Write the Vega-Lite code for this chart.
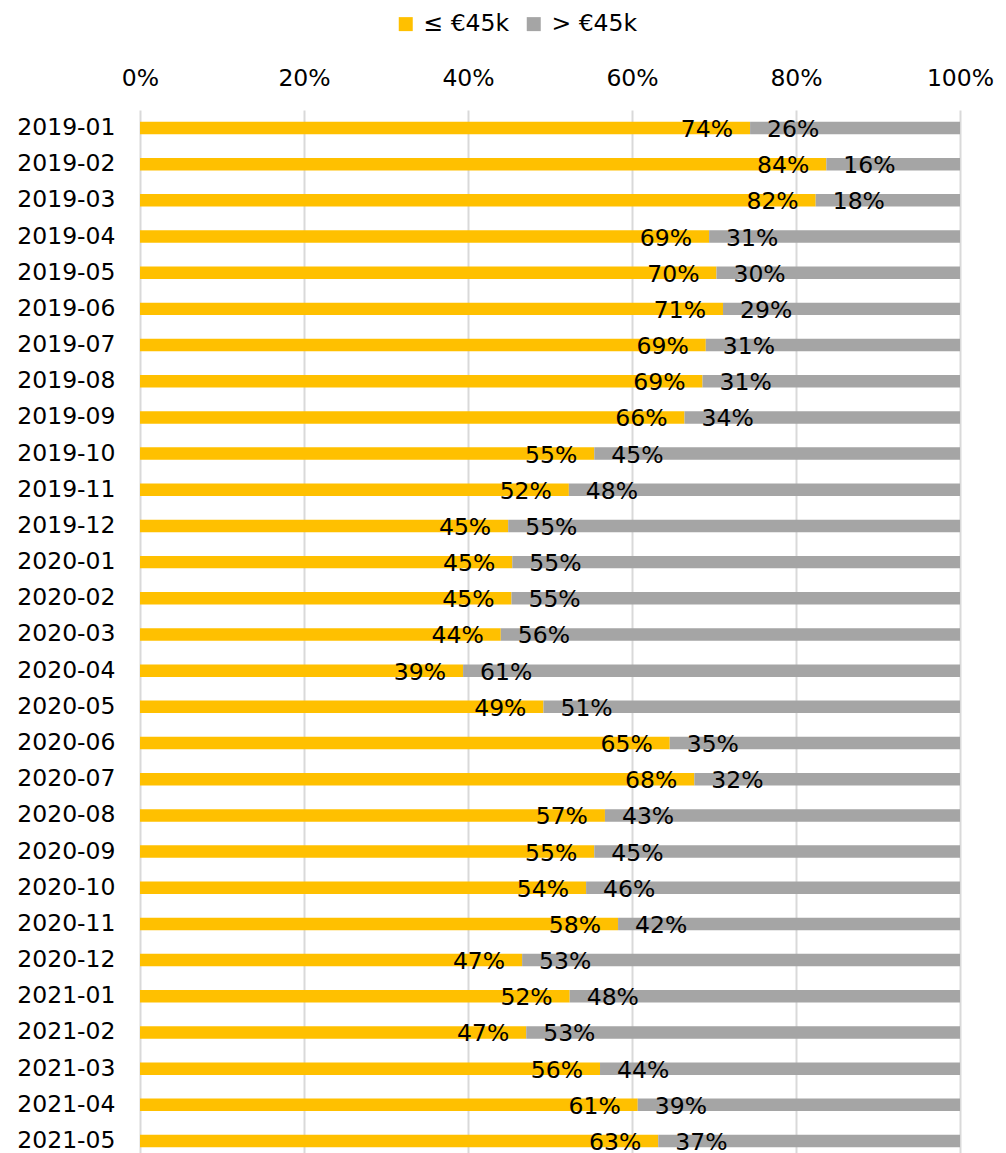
{
  "$schema": "https://vega.github.io/schema/vega-lite/v6.json",
  "autosize": {"type": "none"},
  "width": 820,
  "height": 1043,
  "padding": {"left": 140, "top": 110, "right": 46, "bottom": 0},
  "background": "white",
  "config": {
    "font": "DejaVu Sans",
    "view": {"stroke": null}
  },
  "data": {
    "values": [
      {"month": "2019-01", "≤ €45k": 0.744, "> €45k": 0.256},
      {"month": "2019-02", "≤ €45k": 0.837, "> €45k": 0.163},
      {"month": "2019-03", "≤ €45k": 0.824, "> €45k": 0.176},
      {"month": "2019-04", "≤ €45k": 0.694, "> €45k": 0.306},
      {"month": "2019-05", "≤ €45k": 0.703, "> €45k": 0.297},
      {"month": "2019-06", "≤ €45k": 0.711, "> €45k": 0.289},
      {"month": "2019-07", "≤ €45k": 0.690, "> €45k": 0.310},
      {"month": "2019-08", "≤ €45k": 0.686, "> €45k": 0.314},
      {"month": "2019-09", "≤ €45k": 0.664, "> €45k": 0.336},
      {"month": "2019-10", "≤ €45k": 0.554, "> €45k": 0.446},
      {"month": "2019-11", "≤ €45k": 0.523, "> €45k": 0.477},
      {"month": "2019-12", "≤ €45k": 0.449, "> €45k": 0.551},
      {"month": "2020-01", "≤ €45k": 0.454, "> €45k": 0.546},
      {"month": "2020-02", "≤ €45k": 0.453, "> €45k": 0.547},
      {"month": "2020-03", "≤ €45k": 0.440, "> €45k": 0.560},
      {"month": "2020-04", "≤ €45k": 0.394, "> €45k": 0.606},
      {"month": "2020-05", "≤ €45k": 0.492, "> €45k": 0.508},
      {"month": "2020-06", "≤ €45k": 0.646, "> €45k": 0.354},
      {"month": "2020-07", "≤ €45k": 0.676, "> €45k": 0.324},
      {"month": "2020-08", "≤ €45k": 0.567, "> €45k": 0.433},
      {"month": "2020-09", "≤ €45k": 0.554, "> €45k": 0.446},
      {"month": "2020-10", "≤ €45k": 0.544, "> €45k": 0.456},
      {"month": "2020-11", "≤ €45k": 0.583, "> €45k": 0.417},
      {"month": "2020-12", "≤ €45k": 0.466, "> €45k": 0.534},
      {"month": "2021-01", "≤ €45k": 0.524, "> €45k": 0.476},
      {"month": "2021-02", "≤ €45k": 0.471, "> €45k": 0.529},
      {"month": "2021-03", "≤ €45k": 0.561, "> €45k": 0.439},
      {"month": "2021-04", "≤ €45k": 0.607, "> €45k": 0.393},
      {"month": "2021-05", "≤ €45k": 0.632, "> €45k": 0.368}
    ]
  },
  "transform": [
    {"fold": ["≤ €45k", "> €45k"], "as": ["group", "share"]}
  ],
  "encoding": {
    "y": {
      "field": "month",
      "type": "nominal",
      "sort": null,
      "scale": {"paddingInner": 0.655, "paddingOuter": 0.2416, "align": 0.671},
      "axis": {
        "title": null,
        "domain": false,
        "ticks": false,
        "labelPadding": 25,
        "labelFontSize": 23.5,
        "labelColor": "#000000",
        "labelFont": "DejaVu Sans"
      }
    }
  },
  "layer": [
    {
      "mark": {"type": "bar"},
      "encoding": {
        "x": {
          "field": "share",
          "type": "quantitative",
          "stack": "zero",
          "scale": {"domain": [0, 1], "nice": false},
          "axis": {
            "orient": "top",
            "title": null,
            "format": ".0%",
            "values": [0, 0.2, 0.4, 0.6, 0.8, 1],
            "domain": false,
            "ticks": false,
            "labelPadding": 20,
            "labelFontSize": 23.5,
            "labelColor": "#000000",
            "labelFont": "DejaVu Sans",
            "grid": true,
            "gridColor": "#d9d9d9",
            "gridWidth": 2,
            "labelFlush": false
          }
        },
        "color": {
          "field": "group",
          "type": "nominal",
          "sort": ["≤ €45k", "> €45k"],
          "scale": {"domain": ["≤ €45k", "> €45k"], "range": ["#FFC000", "#A5A5A5"]},
          "legend": {
            "title": null,
            "orient": "none",
            "direction": "horizontal",
            "legendX": 254,
            "legendY": -98,
            "symbolType": "square",
            "symbolSize": 196,
            "symbolStrokeWidth": 0,
            "labelFontSize": 23.5,
            "labelColor": "#000000",
            "labelFont": "DejaVu Sans",
            "columnPadding": 12,
            "labelOffset": 6,
            "padding": 0
          }
        },
        "order": {"field": "group", "sort": "descending"}
      }
    },
    {
      "transform": [{"filter": "datum.group == '≤ €45k'"}],
      "mark": {"type": "text", "align": "right", "baseline": "middle", "dx": -17, "dy": 2, "fontSize": 23.5, "color": "#000000", "font": "DejaVu Sans"},
      "encoding": {
        "x": {"field": "≤ €45k", "type": "quantitative"},
        "text": {"field": "≤ €45k", "type": "quantitative", "format": ".0%"}
      }
    },
    {
      "transform": [{"filter": "datum.group == '> €45k'"}],
      "mark": {"type": "text", "align": "left", "baseline": "middle", "dx": 17, "dy": 2, "fontSize": 23.5, "color": "#000000", "font": "DejaVu Sans"},
      "encoding": {
        "x": {"field": "≤ €45k", "type": "quantitative"},
        "text": {"field": "> €45k", "type": "quantitative", "format": ".0%"}
      }
    }
  ]
}
